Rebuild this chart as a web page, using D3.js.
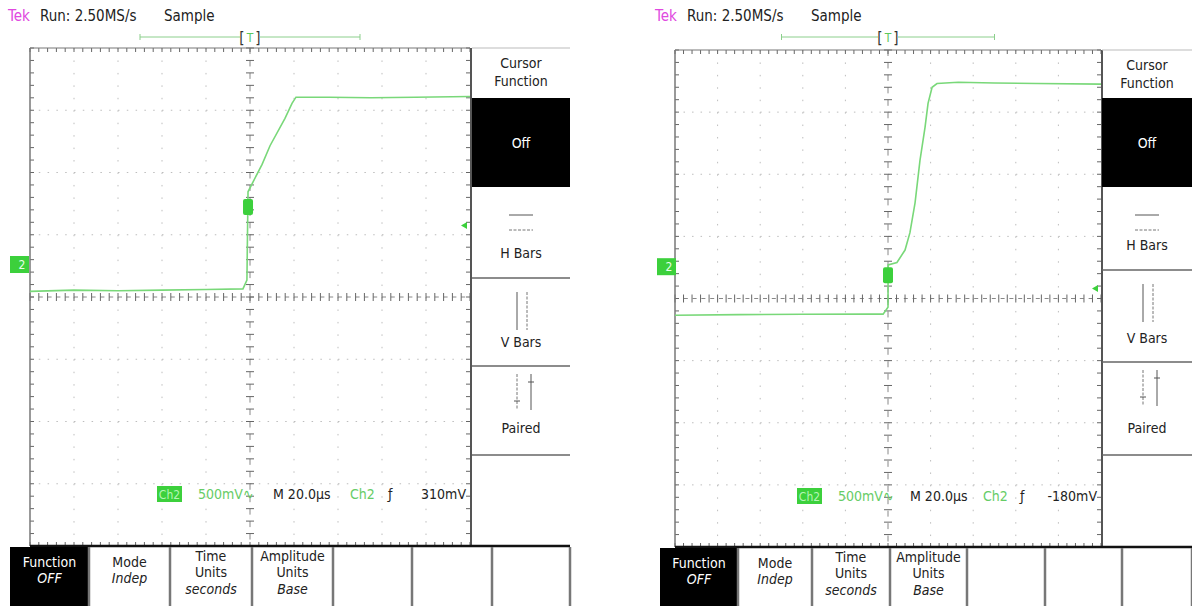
<!DOCTYPE html>
<html>
<head>
<meta charset="utf-8">
<script src="https://cdn.jsdelivr.net/npm/d3@7"></script>
<style>
  body { margin: 0; background: #fff; }
  svg text { font-family: "DejaVu Sans Condensed", "DejaVu Sans", sans-serif; font-stretch: condensed; }
</style>
</head>
<body>
<div id="scope"></div>
<script>
// ---- data (time in µs, voltage in V) ----
var leftTime  = [-100, -80, -60, -40, -20, -3.2, -1.4, -0.9, 1.4, 5.5, 9.1, 15.9, 19.1, 20.9, 36, 55, 75, 100];
var leftVolts = [-0.22, -0.21, -0.215, -0.21, -0.205, -0.2, -0.13, 0.58, 0.66, 0.80, 0.95, 1.17, 1.29, 1.34, 1.34, 1.335, 1.34, 1.345];
var rightTime  = [-100, -70, -40, -10, -2.3, 0, 0.05, 4.2, 8.0, 10.3, 12.7, 15.0, 17.4, 18.8, 20.7, 23.0, 33, 50, 70, 100];
var rightVolts = [-0.395, -0.39, -0.387, -0.386, -0.386, -0.33, 0.01, 0.03, 0.13, 0.27, 0.51, 0.85, 1.12, 1.31, 1.44, 1.47, 1.48, 1.475, 1.47, 1.465];

var triggerLevels = [0.31, -0.18];          // V
var triggerMarks  = [[-0.9, 0.458], [0, -0.072]];  // position of the marker on the trace
var groundOffsets = [0.53, 0.52];          // divisions above screen centre
var recordWindow  = [-50, 50];             // µs, top bar
var voltsPerDiv   = 0.5;
var timeSpan      = [-100, 100];

var headerTexts  = ["Run: 2.50MS/s", "Sample"];
var cursorMenu   = ["Cursor", "Function"];
var cursorItems  = ["Off", "H Bars", "V Bars", "Paired"];
var bottomMenu   = [["Function", "OFF"], ["Mode", "Indep"], ["Time", "Units", "seconds"], ["Amplitude", "Units", "Base"], [], [], []];
var scaleLabels  = ["500mV", "M 20.0µs"];
var trigLabels   = ["310mV", "-180mV"];

var W = 1192, H = 606;
var svg = d3.select("#scope").append("svg").attr("width", W).attr("height", H);

var layouts = [
  { x0: 30, x1: 470, y0: 48, y1: 546, ox: 8, panel: [472, 570], rows: [48, 98, 187, 278, 366, 455],
    bottom: [10, 89, 170, 252, 333, 412, 492, 570], bar: 37, readY: 494, read: [157, 198, 273, 350, 388, 466] },
  { x0: 675, x1: 1101, y0: 50, y1: 547, ox: 655, panel: [1102, 1192], rows: [50, 98, 187, 270, 362, 455],
    bottom: [660, 738, 812, 890, 967, 1045, 1122, 1192], bar: 37, readY: 496, read: [797, 838, 910, 983, 1020, 1097] }
];
var traces = [[leftTime, leftVolts], [rightTime, rightVolts]];

var GREEN = "#79d879", BOX = "#3cd03c";

function drawScope(k) {
  var L = layouts[k];
  var g = svg.append("g");
  var x = d3.scaleLinear().domain(timeSpan).range([L.x0, L.x1]);
  var off = groundOffsets[k];
  var y = d3.scaleLinear().domain([-(4 + off) * voltsPerDiv, (4 - off) * voltsPerDiv]).range([L.y1, L.y0]);
  var gx = d3.scaleLinear().domain([0, 10]).range([L.x0, L.x1]);
  var gy = d3.scaleLinear().domain([0, 8]).range([L.y0, L.y1]);
  var dx = gx(1) - gx(0), dy = gy(1) - gy(0);

  // dotted division lines
  d3.range(1, 10).filter(function(i){ return i != 5; }).forEach(function(i) {
    g.append("line").attr("x1", gx(i)).attr("x2", gx(i)).attr("y1", L.y0).attr("y2", L.y1)
      .attr("stroke", "#bdbdbd").attr("stroke-dasharray", "1.5," + (dy/5 - 1.5));
  });
  d3.range(1, 8).filter(function(j){ return j != 4; }).forEach(function(j) {
    g.append("line").attr("x1", L.x0).attr("x2", L.x1).attr("y1", gy(j)).attr("y2", gy(j))
      .attr("stroke", "#bdbdbd").attr("stroke-dasharray", "1.5," + (dx/5 - 1.5));
  });
  // centre lines with minor ticks
  g.append("line").attr("x1", L.x0).attr("x2", L.x1).attr("y1", gy(4)).attr("y2", gy(4))
    .attr("stroke", "#888").attr("stroke-dasharray", "4,4.8");
  g.append("line").attr("x1", gx(5)).attr("x2", gx(5)).attr("y1", L.y0).attr("y2", L.y1)
    .attr("stroke", "#888").attr("stroke-dasharray", "6,6.45");
  g.selectAll(".hx").data(d3.range(0, 10.01, 0.2)).enter().append("line")
    .attr("x1", gx).attr("x2", gx).attr("y1", gy(4) - 4).attr("y2", gy(4) + 4).attr("stroke", "#666");
  g.selectAll(".vy").data(d3.range(0, 8.01, 0.2)).enter().append("line")
    .attr("y1", gy).attr("y2", gy).attr("x1", gx(5) - 4).attr("x2", gx(5) + 4).attr("stroke", "#666");
  // edge ticks
  g.selectAll(".tt").data(d3.range(0, 10.01, 0.2)).enter().append("line")
    .attr("x1", gx).attr("x2", gx).attr("y1", L.y0).attr("y2", L.y0 + 4).attr("stroke", "#666");
  g.selectAll(".bt").data(d3.range(0, 10.01, 0.2)).enter().append("line")
    .attr("x1", gx).attr("x2", gx).attr("y1", L.y1 - 4).attr("y2", L.y1).attr("stroke", "#666");
  g.selectAll(".lt").data(d3.range(0, 8.01, 0.2)).enter().append("line")
    .attr("y1", gy).attr("y2", gy).attr("x1", L.x0).attr("x2", L.x0 + 4).attr("stroke", "#666");
  g.selectAll(".rt").data(d3.range(0, 8.01, 0.2)).enter().append("line")
    .attr("y1", gy).attr("y2", gy).attr("x1", L.x1 - 4).attr("x2", L.x1).attr("stroke", "#666");
  // frame
  g.append("line").attr("x1", L.x0).attr("x2", L.x1).attr("y1", L.y0).attr("y2", L.y0).attr("stroke", "#777");
  g.append("line").attr("x1", L.x0).attr("x2", L.x0).attr("y1", L.y0).attr("y2", L.y1).attr("stroke", "#777").attr("stroke-width", 1.5);
  g.append("line").attr("x1", L.x1 + 1).attr("x2", L.x1 + 1).attr("y1", L.y0).attr("y2", L.y1).attr("stroke", "#555").attr("stroke-width", 2);

  // waveform
  var pts = d3.zip(traces[k][0], traces[k][1]);
  var line = d3.line().x(function(d){ return x(d[0]); }).y(function(d){ return y(d[1]); });
  g.append("path").datum(pts).attr("d", line).attr("fill", "none").attr("stroke", GREEN).attr("stroke-width", 1.6);

  // trigger point marker
  var tm = triggerMarks[k];
  g.append("rect").attr("x", x(tm[0]) - 5).attr("y", y(tm[1]) - 8).attr("width", 10).attr("height", 16)
    .attr("rx", 2).attr("fill", BOX);
  // trigger level arrow on right edge
  var ty = y(triggerLevels[k]);
  g.append("path").attr("d", "M" + (L.x1 - 9) + "," + ty + "l6,-3.5v7z").attr("fill", BOX);
  // ground marker
  g.append("rect").attr("x", L.ox + 2).attr("y", y(0) - 8).attr("width", 19).attr("height", 17).attr("fill", BOX);
  g.append("text").attr("x", L.ox + 14).attr("y", y(0) + 5).attr("text-anchor", "middle")
    .attr("font-size", 12).attr("fill", "#e8ffe8").text("2");

  // header
  g.append("text").attr("x", L.ox).attr("y", 21).attr("font-size", 15).attr("fill", "#e048e0").text("Tek");
  g.append("text").attr("x", L.ox + 32).attr("y", 21).attr("font-size", 15).attr("fill", "#222").text(headerTexts[0]);
  g.append("text").attr("x", L.ox + 156).attr("y", 21).attr("font-size", 15).attr("fill", "#222").text(headerTexts[1]);

  // record bar with trigger position
  var bx0 = x(recordWindow[0]), bx1 = x(recordWindow[1]);
  g.append("line").attr("x1", bx0).attr("x2", bx1).attr("y1", L.bar).attr("y2", L.bar).attr("stroke", "#8ccf8c");
  [bx0, bx1].forEach(function(v) {
    g.append("line").attr("x1", v).attr("x2", v).attr("y1", L.bar - 3).attr("y2", L.bar + 3).attr("stroke", "#8ccf8c");
  });
  g.append("rect").attr("x", x(0) - 10).attr("y", L.bar - 8).attr("width", 20).attr("height", 16).attr("fill", "#fff");
  g.append("text").attr("x", x(0) - 8).attr("y", L.bar + 6).attr("text-anchor", "middle").attr("font-size", 15).attr("fill", "#333").text("[");
  g.append("text").attr("x", x(0) + 8).attr("y", L.bar + 6).attr("text-anchor", "middle").attr("font-size", 15).attr("fill", "#333").text("]");
  g.append("text").attr("x", x(0)).attr("y", L.bar + 5).attr("text-anchor", "middle").attr("font-size", 12).attr("fill", "#5cc85c").text("T");

  // readout line
  var r = L.read, ry = L.readY;
  g.append("rect").attr("x", r[0]).attr("y", ry - 8).attr("width", 25).attr("height", 16).attr("fill", BOX);
  g.append("text").attr("x", r[0] + 12.5).attr("y", ry + 5).attr("text-anchor", "middle").attr("font-size", 12).attr("fill", "#b6f5b6").text("Ch2");
  g.append("text").attr("x", r[1]).attr("y", ry + 5).attr("font-size", 14).attr("fill", "#66cc66").text(scaleLabels[0] + "∿");
  g.append("text").attr("x", r[2]).attr("y", ry + 5).attr("font-size", 14).attr("fill", "#222").text(scaleLabels[1]);
  g.append("text").attr("x", r[3]).attr("y", ry + 5).attr("font-size", 14).attr("fill", "#66cc66").text("Ch2");
  g.append("text").attr("x", r[4]).attr("y", ry + 5).attr("font-size", 14).attr("fill", "#222").text("ƒ");
  g.append("text").attr("x", r[5]).attr("y", ry + 5).attr("text-anchor", "end").attr("font-size", 14).attr("fill", "#222").text(trigLabels[k]);

  // side menu
  var px0 = L.panel[0], px1 = L.panel[1], pc = (px0 + px1) / 2, rw = L.rows;
  g.append("line").attr("x1", px0).attr("x2", px1).attr("y1", rw[0]).attr("y2", rw[0]).attr("stroke", "#bbb");
  g.append("rect").attr("x", px0).attr("y", rw[1]).attr("width", px1 - px0).attr("height", rw[2] - rw[1]).attr("fill", "#000");
  [rw[3], rw[4], rw[5]].forEach(function(v) {
    g.append("line").attr("x1", px0).attr("x2", px1).attr("y1", v).attr("y2", v).attr("stroke", "#666").attr("stroke-width", 1.5);
  });
  g.append("text").attr("x", pc).attr("y", rw[0] + 20).attr("text-anchor", "middle").attr("font-size", 14).attr("fill", "#222").text(cursorMenu[0]);
  g.append("text").attr("x", pc).attr("y", rw[0] + 38).attr("text-anchor", "middle").attr("font-size", 14).attr("fill", "#222").text(cursorMenu[1]);
  g.append("text").attr("x", pc).attr("y", (rw[1] + rw[2]) / 2 + 5).attr("text-anchor", "middle").attr("font-size", 14).attr("fill", "#fff").text(cursorItems[0]);
  // H bars icon
  var hb = rw[2] + 28;
  g.append("line").attr("x1", pc - 12).attr("x2", pc + 12).attr("y1", hb).attr("y2", hb).attr("stroke", "#555");
  g.append("line").attr("x1", pc - 12).attr("x2", pc + 12).attr("y1", hb + 15).attr("y2", hb + 15).attr("stroke", "#777").attr("stroke-dasharray", "3,1.5");
  g.append("text").attr("x", pc).attr("y", rw[3] - 20).attr("text-anchor", "middle").attr("font-size", 14).attr("fill", "#222").text(cursorItems[1]);
  // V bars icon
  g.append("line").attr("x1", pc - 4).attr("x2", pc - 4).attr("y1", rw[3] + 14).attr("y2", rw[3] + 52).attr("stroke", "#555");
  g.append("line").attr("x1", pc + 6).attr("x2", pc + 6).attr("y1", rw[3] + 14).attr("y2", rw[3] + 52).attr("stroke", "#777").attr("stroke-dasharray", "3,1.5");
  g.append("text").attr("x", pc).attr("y", rw[4] - 19).attr("text-anchor", "middle").attr("font-size", 14).attr("fill", "#222").text(cursorItems[2]);
  // paired icon
  g.append("line").attr("x1", pc - 4).attr("x2", pc - 4).attr("y1", rw[4] + 8).attr("y2", rw[4] + 44).attr("stroke", "#777").attr("stroke-dasharray", "3,1.5");
  g.append("line").attr("x1", pc - 7).attr("x2", pc - 1).attr("y1", rw[4] + 35).attr("y2", rw[4] + 35).attr("stroke", "#555");
  g.append("line").attr("x1", pc + 10).attr("x2", pc + 10).attr("y1", rw[4] + 8).attr("y2", rw[4] + 44).attr("stroke", "#555");
  g.append("line").attr("x1", pc + 7).attr("x2", pc + 13).attr("y1", rw[4] + 16).attr("y2", rw[4] + 16).attr("stroke", "#555");
  g.append("text").attr("x", pc).attr("y", rw[5] - 22).attr("text-anchor", "middle").attr("font-size", 14).attr("fill", "#222").text(cursorItems[3]);

  // bottom menu
  var bt = L.y1;
  g.append("line").attr("x1", L.x0).attr("x2", px1).attr("y1", bt).attr("y2", bt).attr("stroke", "#111").attr("stroke-width", 2.5);
  var bb = L.bottom;
  g.append("rect").attr("x", bb[0]).attr("y", bt + 1).attr("width", bb[1] - bb[0] - 1).attr("height", H - bt).attr("fill", "#000");
  bb.slice(1).forEach(function(v) {
    g.append("line").attr("x1", v).attr("x2", v).attr("y1", bt + 1).attr("y2", H).attr("stroke", "#777").attr("stroke-width", 2.5);
  });
  bottomMenu.forEach(function(lines, i) {
    var cx = (bb[i] + bb[i + 1]) / 2;
    var ys = lines.length == 3 ? [bt + 15, bt + 31, bt + 48] : [bt + 21, bt + 37];
    lines.forEach(function(s, j) {
      g.append("text").attr("x", cx).attr("y", ys[j]).attr("text-anchor", "middle").attr("font-size", 14)
        .attr("font-style", j == lines.length - 1 && j > 0 ? "italic" : "normal")
        .attr("fill", i == 0 ? "#fff" : "#222").text(s);
    });
  });
}

drawScope(0);
drawScope(1);
</script>
</body>
</html>
